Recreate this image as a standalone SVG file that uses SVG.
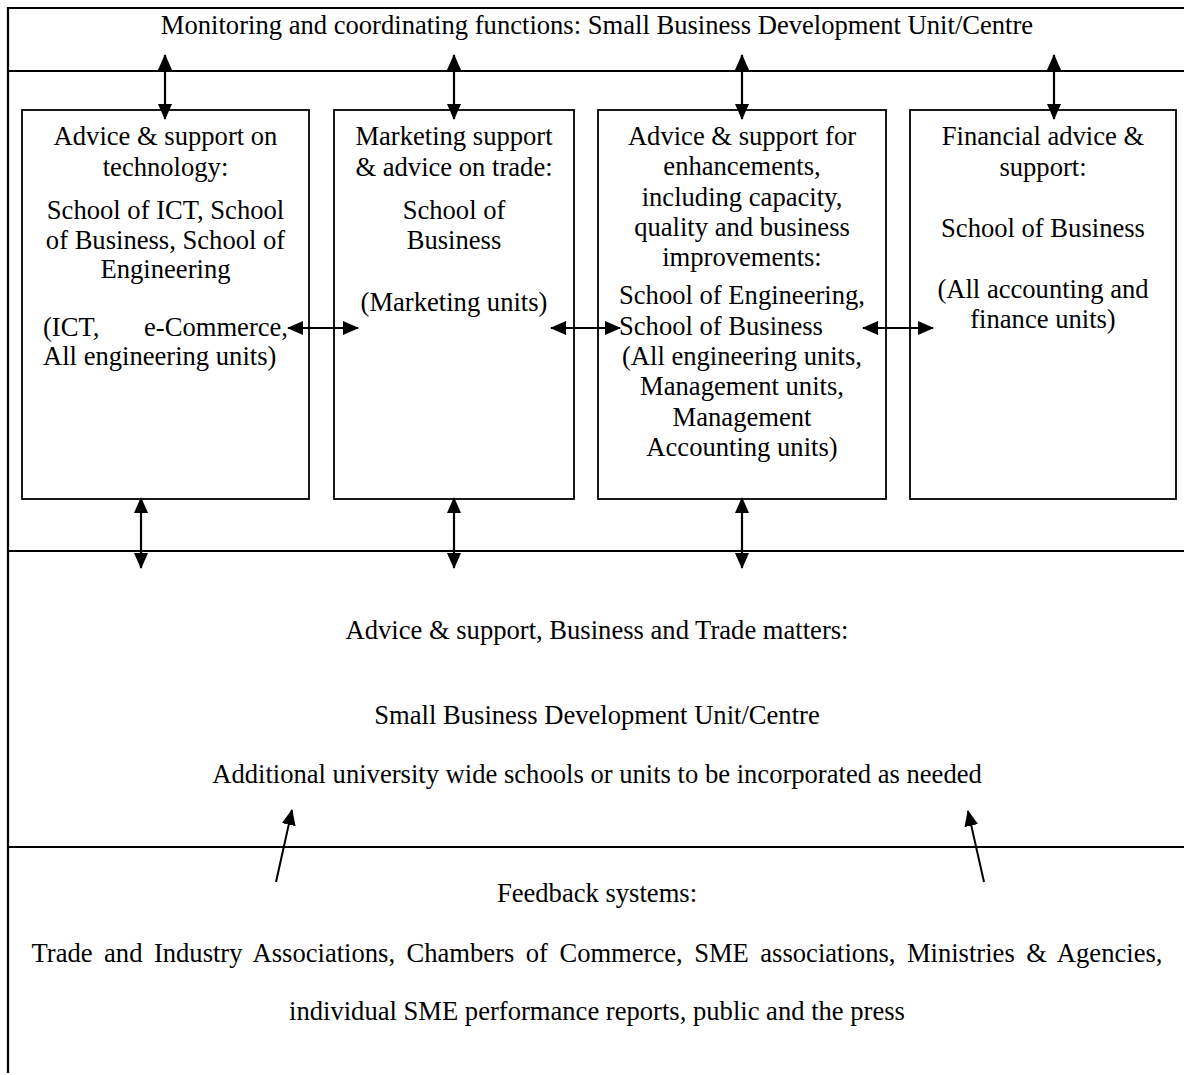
<svg xmlns="http://www.w3.org/2000/svg" width="1184" height="1075" viewBox="0 0 1184 1075">
  <style>
    text { font-family: "Liberation Serif", "Times New Roman", serif; font-size: 26.6px; fill: #000; }
    .c { text-anchor: middle; }
    .e { text-anchor: end; }
    .frame { stroke: #000; stroke-width: 2.2; fill: none; }
    .box { stroke: #000; stroke-width: 1.8; fill: #fff; }
    .arrow { stroke: #000; stroke-width: 2.2; fill: none; marker-start: url(#head); marker-end: url(#head); }
    .one { stroke: #000; stroke-width: 2; fill: none; marker-end: url(#head); }
  </style>
  <defs>
    <marker id="head" viewBox="0 0 16 14" refX="15" refY="7" markerWidth="16" markerHeight="14" markerUnits="userSpaceOnUse" orient="auto-start-reverse">
      <path d="M0,0 L16,7 L0,14 Z" fill="#000"/>
    </marker>
  </defs>

  <rect width="1184" height="1075" fill="#fff"/>

  <!-- outer frame and band separators -->
  <g id="frame">
    <path class="frame" d="M8,1073 V8 H1184"/>
    <line class="frame" x1="8" y1="71" x2="1184" y2="71"/>
    <line class="frame" x1="8" y1="551" x2="1184" y2="551"/>
    <line class="frame" x1="8" y1="847" x2="1184" y2="847"/>
  </g>

  <g id="monitoring">
    <text class="c" x="597" y="34">Monitoring and coordinating functions: Small Business Development Unit/Centre</text>
  </g>

  <g id="technology">
    <rect class="box" x="22" y="110" width="287" height="389"/>
    <text class="c" x="165.5" y="145">Advice &amp; support on</text>
    <text class="c" x="165.5" y="176">technology:</text>
    <text class="c" x="165.5" y="219">School of ICT, School</text>
    <text class="c" x="165.5" y="249">of Business, School of</text>
    <text class="c" x="165.5" y="278">Engineering</text>
    <text x="43" y="336">(ICT,</text>
    <text class="e" x="288" y="336">e-Commerce,</text>
    <text x="43" y="365">All engineering units)</text>
  </g>

  <g id="marketing">
    <rect class="box" x="334" y="110" width="240" height="389"/>
    <text class="c" x="454" y="145">Marketing support</text>
    <text class="c" x="454" y="176">&amp; advice on trade:</text>
    <text class="c" x="454" y="219">School of</text>
    <text class="c" x="454" y="249">Business</text>
    <text class="c" x="454" y="311">(Marketing units)</text>
  </g>

  <g id="enhancements">
    <rect class="box" x="598" y="110" width="288" height="389"/>
    <text class="c" x="742" y="145">Advice &amp; support for</text>
    <text class="c" x="742" y="175">enhancements,</text>
    <text class="c" x="742" y="206">including capacity,</text>
    <text class="c" x="742" y="236">quality and business</text>
    <text class="c" x="742" y="266">improvements:</text>
    <text class="c" x="742" y="304">School of Engineering,</text>
    <text x="619" y="335">School of Business</text>
    <text class="c" x="742" y="365">(All engineering units,</text>
    <text class="c" x="742" y="395">Management units,</text>
    <text class="c" x="742" y="426">Management</text>
    <text class="c" x="742" y="456">Accounting units)</text>
  </g>

  <g id="financial">
    <rect class="box" x="910" y="110" width="266" height="389"/>
    <text class="c" x="1043" y="145">Financial advice &amp;</text>
    <text class="c" x="1043" y="176">support:</text>
    <text class="c" x="1043" y="237">School of Business</text>
    <text class="c" x="1043" y="298">(All accounting and</text>
    <text class="c" x="1043" y="328">finance units)</text>
  </g>

  <g id="business-trade">
    <text class="c" x="597" y="639">Advice &amp; support, Business and Trade matters:</text>
    <text class="c" x="597" y="724">Small Business Development Unit/Centre</text>
    <text class="c" x="597" y="783">Additional university wide schools or units to be incorporated as needed</text>
  </g>

  <g id="feedback">
    <text class="c" x="597" y="902">Feedback systems:</text>
    <text class="c" x="597" y="962" word-spacing="4.8">Trade and Industry Associations, Chambers of Commerce, SME associations, Ministries &amp; Agencies,</text>
    <text class="c" x="597" y="1020">individual SME performance reports, public and the press</text>
  </g>

  <!-- connectors -->
  <g id="connectors">
    <line class="arrow" x1="165" y1="55" x2="165" y2="119"/>
    <line class="arrow" x1="454" y1="55" x2="454" y2="119"/>
    <line class="arrow" x1="742" y1="55" x2="742" y2="119"/>
    <line class="arrow" x1="1054" y1="55" x2="1054" y2="119"/>

    <line class="arrow" x1="288" y1="328" x2="358" y2="328"/>
    <line class="arrow" x1="551" y1="328" x2="620" y2="328"/>
    <line class="arrow" x1="863" y1="328" x2="933" y2="328"/>

    <line class="arrow" x1="141" y1="498" x2="141" y2="568"/>
    <line class="arrow" x1="454" y1="498" x2="454" y2="568"/>
    <line class="arrow" x1="742" y1="498" x2="742" y2="568"/>

    <line class="one" x1="276" y1="882" x2="292" y2="810"/>
    <line class="one" x1="984" y1="882" x2="968" y2="811"/>
  </g>
</svg>
